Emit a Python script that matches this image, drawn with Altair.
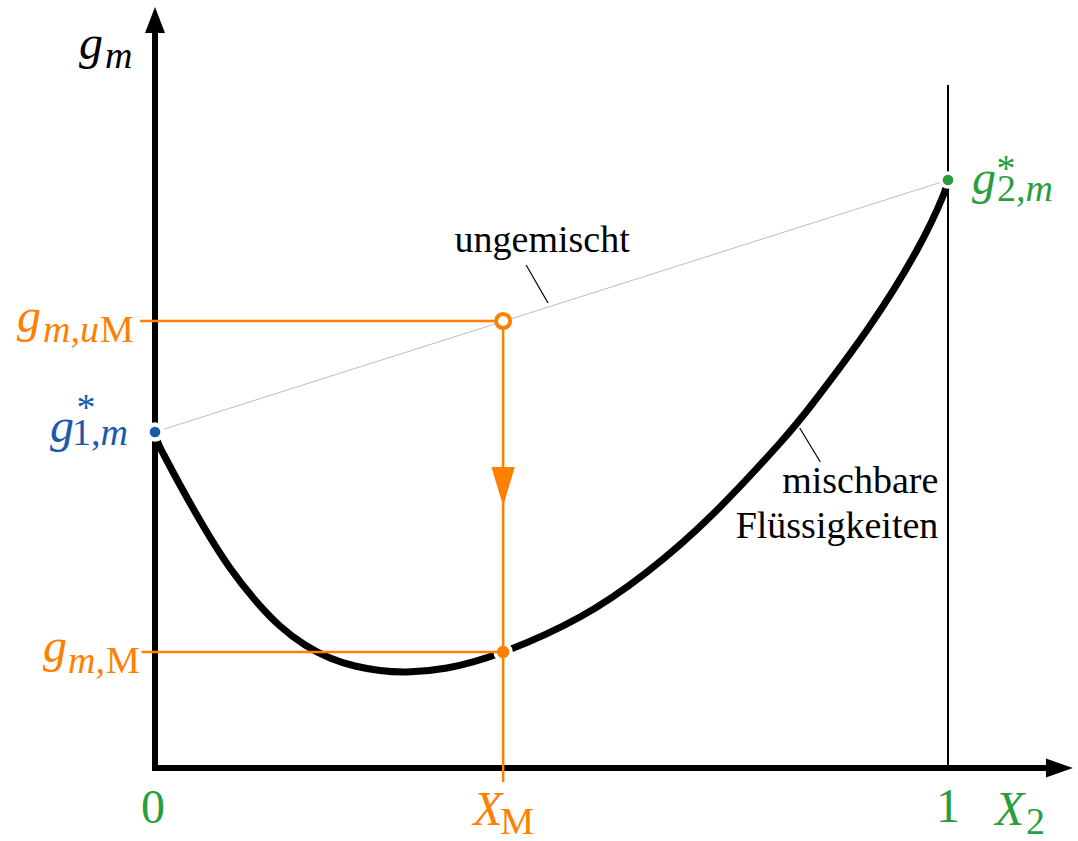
import altair as alt
import pandas as pd

# Molar Gibbs energy of mixing two liquids, schematic
curve_x = [0.0, 0.0038, 0.0126, 0.0315, 0.0631, 0.0946, 0.1261, 0.1576, 0.1892, 0.2207,
           0.2522, 0.2837, 0.3178, 0.3682, 0.439, 0.5359, 0.6204, 0.7037, 0.7881,
           0.8298, 0.8979, 0.9609, 0.9937, 1.0]
curve_g = [3.36, 3.25, 3.11, 2.83, 2.39, 2.00, 1.68, 1.42, 1.23, 1.10,
           1.02, 0.975, 0.96, 1.00, 1.16, 1.51, 1.96, 2.54, 3.25,
           3.65, 4.38, 5.18, 5.72, 5.88]

G1 = 3.36      # g*_1,m  (pure component 1)
G2 = 5.88      # g*_2,m  (pure component 2)
X_M = 0.439    # mixture composition
G_UM = 4.47    # unmixed value at X_M
G_M = 1.16     # mixed value at X_M

ORANGE = "#ff8000"
BLUE = "#1a5aab"
GREEN = "#2a9d3c"
FONT = "Liberation Serif"

# plot frame: data extents
X_DOM = [-155 / 793, 923 / 793]
Y_DOM = [-0.73, 7.68]
X_TIP, X_LINE_END = 1.1576, 1.1286
Y_TIP, Y_LINE_END = 7.61, 7.35

xs = alt.Scale(domain=X_DOM, nice=False, zero=False)
ys = alt.Scale(domain=Y_DOM, nice=False, zero=False)


def X(field="x"):
    return alt.X(f"{field}:Q", scale=xs, axis=None)


def Y(field="y"):
    return alt.Y(f"{field}:Q", scale=ys, axis=None)


def seg(x0, y0, x1, y1, color, width, cap="butt"):
    df = pd.DataFrame({"x": [x0], "y": [y0], "x2": [x1], "y2": [y1]})
    return alt.Chart(df).mark_rule(color=color, strokeWidth=width, strokeCap=cap).encode(
        x=X(), y=Y(), x2="x2:Q", y2="y2:Q")


def pt(x, y, **kw):
    df = pd.DataFrame({"x": [x], "y": [y]})
    return alt.Chart(df).mark_point(opacity=1, **kw).encode(x=X(), y=Y())


def label(x, y, text, dx, dy, color="black", size=38, italic=False, align="left"):
    df = pd.DataFrame({"x": [x], "y": [y], "t": [text]})
    return alt.Chart(df).mark_text(
        font=FONT, fontSize=size, fontStyle="italic" if italic else "normal",
        color=color, align=align, baseline="alphabetic", dx=dx, dy=dy,
    ).encode(x=X(), y=Y(), text="t:N")


curve_df = pd.DataFrame({"x": curve_x, "y": curve_g})
curve = alt.Chart(curve_df).mark_line(
    color="black", strokeWidth=7, interpolate="natural", strokeCap="butt"
).encode(x=X(), y=Y())

layers = [
    # vertical at X2 = 1
    seg(1, 0, 1, 6.83, "black", 2),
    # straight line between the pure components (unmixed)
    seg(0, G1, 1, G2, "#bdbdbd", 1),
    # axes
    seg(0, 0, X_LINE_END, 0, "black", 6, "square"),
    seg(0, 0, 0, Y_LINE_END, "black", 6, "square"),
    pt(X_TIP - 0.0171, 0, shape="M 1 0 L -1 -0.7 L -1 0.7 Z", size=729,
       filled=True, color="black", strokeWidth=0),
    pt(0, Y_TIP - 0.13, shape="M 0 -1 L 0.77 1 L -0.77 1 Z", size=676,
       filled=True, color="black", strokeWidth=0),
    curve,
    # white gaps around the marked points
    pt(0, G1, shape="circle", size=380, filled=True, color="white", strokeWidth=0),
    pt(1, G2, shape="circle", size=314, filled=True, color="white", strokeWidth=0),
    pt(X_M, G_M, shape="circle", size=380, filled=True, color="white", strokeWidth=0),
    # construction lines at X_M
    seg(-0.019, G_UM, X_M, G_UM, ORANGE, 2.5),
    seg(-0.017, G_M, X_M, G_M, ORANGE, 2.5),
    seg(X_M, G_UM, X_M, -0.14, ORANGE, 2.5),
    pt(X_M, (G_UM + G_M) / 2, shape="M 0 1 L -0.6 -1 L 0.6 -1 Z", size=1521,
       filled=True, color=ORANGE, strokeWidth=0),
    # points
    pt(0, G1, shape="circle", size=113, filled=True, color=BLUE, strokeWidth=0),
    pt(1, G2, shape="circle", size=113, filled=True, color=GREEN, strokeWidth=0),
    pt(X_M, G_M, shape="circle", size=154, filled=True, color=ORANGE, strokeWidth=0),
    pt(X_M, G_UM, shape="circle", size=201, filled=False, fill="white",
       stroke=ORANGE, strokeWidth=4),
    # leader lines
    seg(0.468, 5.03, 0.4956, 4.65, "black", 1.2),
    seg(0.813, 3.40, 0.839, 3.06, "black", 1.2),
    label(0.468, 5.03, "ungemischt", 16, -13, align="center"),
    label(0.839, 3.06, "mischbare", 118, 31, align="right"),
    label(0.839, 3.06, "Flüssigkeiten", 118, 76, align="right"),
    # y axis title
    label(0, Y_TIP, "g", -76, 52, size=48, italic=True),
    label(0, Y_TIP, "m", -50, 61, italic=True),
    # g*_1,m
    label(0, G1, "g", -105, 10, color=BLUE, size=48, italic=True),
    label(0, G1, "1", -83, 13, color=BLUE),
    label(0, G1, ",m", -64, 13, color=BLUE, italic=True),
    label(0, G1, "*", -69, -12, color=BLUE, align="center"),
    # g_m,uM
    label(0, G_UM, "g", -138, 11, color=ORANGE, size=48, italic=True),
    label(0, G_UM, "m,u", -112, 21, color=ORANGE, italic=True),
    label(0, G_UM, "M", -55, 21, color=ORANGE),
    # g_m,M
    label(0, G_M, "g", -112, 10, color=ORANGE, size=48, italic=True),
    label(0, G_M, "m,", -87, 21, color=ORANGE, italic=True),
    label(0, G_M, "M", -49, 21, color=ORANGE),
    # g*_2,m
    label(1, G2, "g", 24, 14, color=GREEN, size=48, italic=True),
    label(1, G2, "2", 49, 21, color=GREEN),
    label(1, G2, ",m", 68, 21, color=GREEN, italic=True),
    label(1, G2, "*", 58, 1, color=GREEN, align="center"),
    # x axis labels
    label(0, 0, "0", -2, 55, color=GREEN, size=48, align="center"),
    label(1, 0, "1", 0, 54, color=GREEN, size=48, align="center"),
    label(X_M, 0, "X", -30, 57, color=ORANGE, size=48, italic=True),
    label(X_M, 0, "M", -3, 66, color=ORANGE),
    label(1, 0, "X", 47, 57, color=GREEN, size=48, italic=True),
    label(1, 0, "2", 78, 66, color=GREEN),
]

chart = alt.layer(*layers).properties(
    width=1078, height=841, autosize=alt.AutoSizeParams(type="none"), padding=0,
    background="white",
).configure_view(stroke=None)

chart.save("out.html", embed_options={"renderer": "svg", "actions": False})
